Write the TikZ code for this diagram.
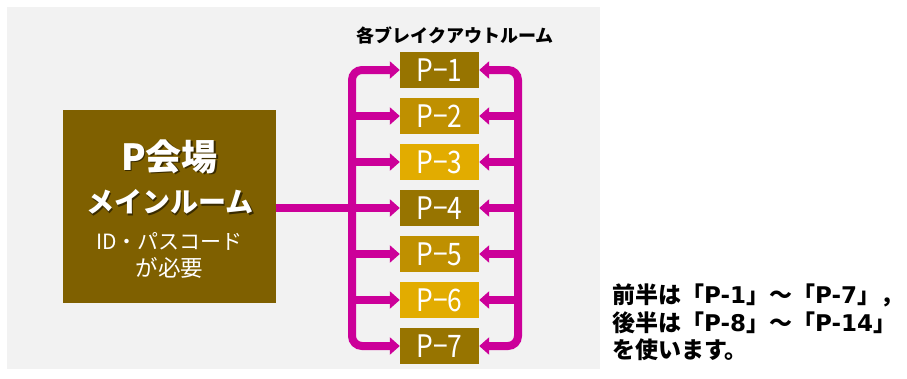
\documentclass[tikz,border=0pt]{standalone}
\usepackage{fontspec}
\newfontfamily\jp{Noto Sans CJK JP}
\newfontfamily\lat{DejaVu Sans}
\usetikzlibrary{arrows.meta}
\definecolor{bgc}{HTML}{F2F2F2}
\definecolor{mainc}{HTML}{7F6000}
\definecolor{goldA}{HTML}{977400}
\definecolor{goldB}{HTML}{BF9000}
\definecolor{goldC}{HTML}{E2AC00}
\definecolor{mag}{HTML}{CC0099}
\newcommand{\shadowed}[1]{\rlap{\kern1.5pt\raisebox{-1.5pt}{\color{mainc!45!black}#1}}#1}
\newcommand{\lt}[1]{{\lat\bfseries #1}}
\tikzset{
  room/.style={minimum width=79pt, minimum height=36pt, inner sep=0pt, text=white,
    font=\jp\fontsize{31}{31}\selectfont},
  bus/.style={draw=mag, line width=8pt},
  tip/.style={-{Triangle[length=10pt,width=17pt]}},
  mtext/.style={text=white, inner sep=0pt},
}
\begin{document}
\begin{tikzpicture}[x=1pt,y=-1pt]
\useasboundingbox (0,0) rectangle (907,378);
\fill[bgc] (7,7) rectangle (600,369);

% title
\node[font=\jp\bfseries\fontsize{18}{18}\selectfont, inner sep=0pt] (title) at (455,35) {各ブレイクアウトルーム};

% main box
\node[fill=mainc, minimum width=213pt, minimum height=193pt, inner sep=0pt] (main) at (169.5,206.5) {};
\node[mtext, font=\jp\bfseries\fontsize{36}{36}\selectfont] (t1) at (169.5,157.5) {\shadowed{P会場}};
\node[mtext, font=\jp\bfseries\fontsize{28}{28}\selectfont] (t2) at (170,203) {\shadowed{メインルーム}};
\node[mtext, font=\jp\fontsize{21}{21}\selectfont] (t3) at (169.5,241) {ID・パスコード};
\node[mtext, font=\jp\fontsize{22.5}{22.5}\selectfont] (t4) at (169.5,268) {が必要};

% rooms
\node[room, fill=goldA] (p1) at (439.5,70)  {\scalebox{0.85}[1]{P−1}};
\node[room, fill=goldB] (p2) at (439.5,116) {\scalebox{0.85}[1]{P−2}};
\node[room, fill=goldC] (p3) at (439.5,162) {\scalebox{0.85}[1]{P−3}};
\node[room, fill=goldA] (p4) at (439.5,208) {\scalebox{0.85}[1]{P−4}};
\node[room, fill=goldB] (p5) at (439.5,254) {\scalebox{0.85}[1]{P−5}};
\node[room, fill=goldC] (p6) at (439.5,300) {\scalebox{0.85}[1]{P−6}};
\node[room, fill=goldA] (p7) at (439.5,346) {\scalebox{0.85}[1]{P−7}};

% bus coordinates
\coordinate (lt) at (352,70);
\coordinate (lb) at (352,346);
\coordinate (rt) at (518,70);
\coordinate (rb) at (518,346);

% left bus
\draw[bus, rounded corners=10pt, {Triangle[length=10pt,width=17pt]}-{Triangle[length=10pt,width=17pt]}]
  (p1.west) -- (lt) -- (lb) -- (p7.west);
\foreach \k in {2,3,5,6} {
  \draw[bus, tip] (lt |- p\k) -- (p\k.west);
}
\draw[bus, tip] (main.east |- p4) -- (p4.west);

% right bus
\draw[bus, rounded corners=10pt, {Triangle[length=10pt,width=17pt]}-{Triangle[length=10pt,width=17pt]}]
  (p1.east) -- (rt) -- (rb) -- (p7.east);
\foreach \k in {2,3,4,5,6} {
  \draw[bus, tip] (rt |- p\k) -- (p\k.east);
}

% note
\node[anchor=west, align=left, inner sep=0pt, font=\jp\bfseries\fontsize{23}{27.5}\selectfont] (note) at (612,322.5)
  {前半は「\lt{P-1}」～「\lt{P-7}」，\\後半は「\lt{P-8}」～「\lt{P-14}」\\を使います。};
\end{tikzpicture}
\end{document}
